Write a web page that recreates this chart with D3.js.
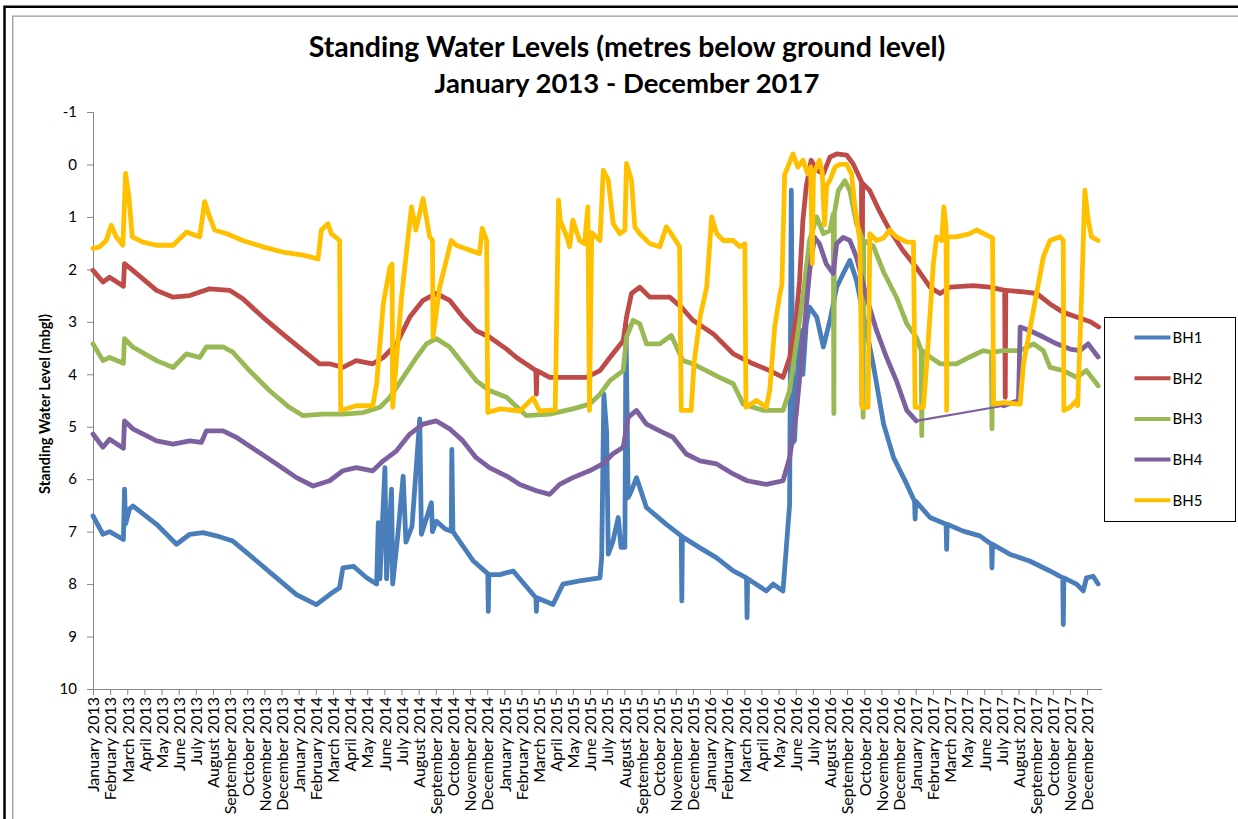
<!DOCTYPE html>
<html>
<head>
<meta charset="utf-8">
<script src="https://cdn.jsdelivr.net/npm/d3@7"></script>
<style>
  body { margin: 0; background: #fff; }
  svg text { font-family: Lato, "Open Sans", sans-serif; fill: #000; }
</style>
</head>
<body>
<svg id="chart" width="1238" height="819"></svg>
<script>
// ---- data (metres below ground level) ----
const seriesNames = ["BH1", "BH2", "BH3", "BH4", "BH5"];
const seriesColors = ["#4A7EBB", "#BE4B48", "#98B954", "#7D60A0", "#FFC000"];

const bh1 = [["2013-01-01",6.70],["2013-01-19",7.05],["2013-01-31",7.00],["2013-02-25",7.15],["2013-02-27",6.19],["2013-03-01",6.85],["2013-03-08",6.57],["2013-03-14",6.51],["2013-04-26",6.86],["2013-06-01",7.24],["2013-06-25",7.05],["2013-07-19",7.02],["2013-08-12",7.08],["2013-09-11",7.18],["2013-10-24",7.56],["2013-11-29",7.88],["2014-01-04",8.20],["2014-02-09",8.39],["2014-03-05",8.20],["2014-03-23",8.07],["2014-03-29",7.69],["2014-04-17",7.66],["2014-05-11",7.88],["2014-05-29",8.00],["2014-06-01",6.83],["2014-06-04",7.90],["2014-06-13",5.78],["2014-06-16",7.90],["2014-06-25",6.19],["2014-06-27",8.00],["2014-07-06",7.10],["2014-07-16",5.94],["2014-07-21",7.20],["2014-08-01",6.90],["2014-08-15",4.85],["2014-08-18",7.05],["2014-09-05",6.45],["2014-09-07",7.00],["2014-09-14",6.80],["2014-09-30",6.95],["2014-10-11",6.99],["2014-10-12",5.43],["2014-10-14",7.00],["2014-11-20",7.56],["2014-12-16",7.80],["2014-12-17",8.52],["2014-12-18",7.82],["2015-01-07",7.82],["2015-01-31",7.75],["2015-03-13",8.26],["2015-03-14",8.52],["2015-03-15",8.26],["2015-04-13",8.39],["2015-05-01",8.00],["2015-05-31",7.94],["2015-07-07",7.88],["2015-07-10",7.50],["2015-07-14",4.38],["2015-07-19",5.10],["2015-07-22",7.43],["2015-07-30",7.20],["2015-08-09",6.73],["2015-08-14",7.30],["2015-08-21",7.30],["2015-08-23",3.04],["2015-08-27",6.35],["2015-09-02",6.22],["2015-09-11",5.97],["2015-09-29",6.54],["2015-11-04",6.86],["2015-12-01",7.08],["2015-12-02",8.32],["2015-12-03",7.10],["2016-01-04",7.31],["2016-02-03",7.50],["2016-03-04",7.75],["2016-03-28",7.88],["2016-03-29",8.64],["2016-03-30",7.90],["2016-05-03",8.13],["2016-05-15",8.00],["2016-06-02",8.13],["2016-06-08",7.31],["2016-06-14",6.48],["2016-06-17",0.49],["2016-06-20",5.30],["2016-06-23",5.26],["2016-06-29",3.80],["2016-07-05",3.17],["2016-07-08",4.00],["2016-07-14",3.04],["2016-07-20",2.72],["2016-08-02",2.91],["2016-08-14",3.48],["2016-08-26",2.97],["2016-09-07",2.34],["2016-09-19",2.08],["2016-10-01",1.83],["2016-10-13",2.21],["2016-10-25",2.85],["2016-11-12",3.80],["2016-12-01",4.95],["2016-12-19",5.59],["2017-01-12",6.10],["2017-01-26",6.42],["2017-01-27",6.76],["2017-01-28",6.42],["2017-02-23",6.73],["2017-03-24",6.86],["2017-03-25",7.34],["2017-03-26",6.86],["2017-04-24",6.99],["2017-05-24",7.08],["2017-06-14",7.24],["2017-06-15",7.69],["2017-06-16",7.24],["2017-07-17",7.43],["2017-08-22",7.56],["2017-09-28",7.75],["2017-10-21",7.88],["2017-10-22",8.77],["2017-10-23",7.88],["2017-11-15",8.00],["2017-11-27",8.13],["2017-12-03",7.88],["2017-12-15",7.85],["2017-12-24",8.00]];

const bh2 = [["2013-01-01",2.02],["2013-01-19",2.24],["2013-01-31",2.15],["2013-02-25",2.32],["2013-02-27",1.89],["2013-03-14",2.02],["2013-04-26",2.40],["2013-05-26",2.53],["2013-06-25",2.50],["2013-07-31",2.37],["2013-09-05",2.40],["2013-09-29",2.56],["2013-11-04",2.91],["2013-12-10",3.23],["2014-01-16",3.55],["2014-02-15",3.80],["2014-03-05",3.80],["2014-03-29",3.87],["2014-04-22",3.74],["2014-05-22",3.80],["2014-06-10",3.68],["2014-07-04",3.42],["2014-07-28",2.91],["2014-08-21",2.59],["2014-09-14",2.46],["2014-10-08",2.59],["2014-11-01",2.91],["2014-11-25",3.17],["2014-12-19",3.29],["2015-01-19",3.52],["2015-02-06",3.68],["2015-03-13",3.93],["2015-03-14",4.38],["2015-03-15",3.93],["2015-04-07",4.06],["2015-05-07",4.06],["2015-06-12",4.06],["2015-07-07",3.93],["2015-07-25",3.68],["2015-08-18",3.36],["2015-08-24",2.91],["2015-09-02",2.46],["2015-09-17",2.34],["2015-10-05",2.53],["2015-11-10",2.53],["2015-12-01",2.72],["2015-12-22",2.97],["2016-01-28",3.23],["2016-03-04",3.61],["2016-04-09",3.80],["2016-05-09",3.93],["2016-06-02",4.06],["2016-06-14",3.68],["2016-06-26",2.91],["2016-07-02",2.21],["2016-07-08",1.07],["2016-07-14",0.43],["2016-07-23",-0.08],["2016-08-02",0.11],["2016-08-14",0.18],["2016-08-26",-0.14],["2016-09-07",-0.20],["2016-09-25",-0.18],["2016-10-07",-0.01],["2016-10-22",0.33],["2016-10-23",4.60],["2016-10-24",0.36],["2016-11-06",0.50],["2016-11-24",0.90],["2016-12-12",1.25],["2017-01-05",1.64],["2017-01-29",1.96],["2017-02-23",2.34],["2017-03-13",2.46],["2017-03-31",2.34],["2017-05-12",2.31],["2017-06-11",2.34],["2017-07-08",2.40],["2017-07-09",4.44],["2017-07-10",2.40],["2017-08-11",2.43],["2017-09-04",2.46],["2017-09-28",2.66],["2017-10-22",2.82],["2017-11-15",2.91],["2017-12-10",3.00],["2017-12-25",3.10]];

const bh3 = [["2013-01-01",3.42],["2013-01-19",3.74],["2013-01-31",3.68],["2013-02-25",3.79],["2013-02-27",3.32],["2013-03-14",3.48],["2013-04-26",3.74],["2013-05-26",3.87],["2013-06-19",3.61],["2013-07-13",3.68],["2013-07-25",3.48],["2013-08-24",3.48],["2013-09-11",3.58],["2013-10-11",3.93],["2013-11-16",4.31],["2013-12-22",4.63],["2014-01-16",4.79],["2014-02-21",4.76],["2014-03-29",4.76],["2014-05-05",4.73],["2014-06-04",4.63],["2014-06-22",4.44],["2014-07-16",4.06],["2014-08-09",3.68],["2014-08-27",3.42],["2014-09-14",3.32],["2014-10-08",3.48],["2014-11-01",3.80],["2014-11-25",4.12],["2014-12-19",4.31],["2015-01-19",4.44],["2015-02-24",4.79],["2015-04-07",4.76],["2015-05-19",4.66],["2015-06-18",4.57],["2015-07-07",4.38],["2015-07-25",4.12],["2015-08-18",3.93],["2015-08-24",3.29],["2015-09-05",2.97],["2015-09-17",3.04],["2015-09-29",3.42],["2015-10-23",3.42],["2015-11-13",3.26],["2015-12-04",3.74],["2015-12-22",3.80],["2016-01-15",3.93],["2016-02-08",4.06],["2016-03-04",4.18],["2016-03-22",4.57],["2016-04-28",4.69],["2016-06-02",4.69],["2016-06-14",4.31],["2016-06-26",3.42],["2016-07-08",2.53],["2016-07-20",1.45],["2016-08-02",1.00],["2016-08-14",1.32],["2016-08-26",1.26],["2016-09-01",0.94],["2016-09-02",4.75],["2016-09-03",0.94],["2016-09-10",0.50],["2016-09-22",0.31],["2016-10-01",0.50],["2016-10-13",1.13],["2016-10-24",1.42],["2016-10-25",4.82],["2016-10-26",1.45],["2016-11-12",1.55],["2016-12-01",2.05],["2016-12-25",2.55],["2017-01-12",3.04],["2017-01-29",3.29],["2017-02-07",3.55],["2017-02-08",5.17],["2017-02-09",3.55],["2017-02-23",3.67],["2017-03-13",3.80],["2017-04-12",3.80],["2017-05-06",3.67],["2017-05-30",3.55],["2017-06-14",3.58],["2017-06-15",5.04],["2017-06-16",3.58],["2017-07-06",3.55],["2017-08-05",3.55],["2017-08-29",3.42],["2017-09-16",3.55],["2017-09-28",3.87],["2017-10-22",3.93],["2017-11-15",4.06],["2017-12-03",3.93],["2017-12-24",4.22]];

const bh4 = [["2013-01-01",5.14],["2013-01-19",5.39],["2013-01-31",5.24],["2013-02-25",5.41],["2013-02-27",4.89],["2013-03-14",5.04],["2013-04-26",5.27],["2013-05-26",5.33],["2013-06-25",5.27],["2013-07-16",5.30],["2013-07-25",5.08],["2013-08-24",5.08],["2013-09-17",5.20],["2013-10-24",5.46],["2013-11-29",5.71],["2014-01-04",5.97],["2014-02-03",6.13],["2014-03-05",6.03],["2014-03-29",5.84],["2014-04-22",5.78],["2014-05-22",5.84],["2014-06-10",5.65],["2014-07-04",5.46],["2014-07-28",5.14],["2014-08-21",4.95],["2014-09-14",4.89],["2014-10-08",5.04],["2014-11-01",5.27],["2014-11-25",5.59],["2014-12-19",5.78],["2015-01-19",5.94],["2015-02-12",6.10],["2015-03-14",6.22],["2015-04-07",6.29],["2015-04-25",6.10],["2015-05-19",5.97],["2015-06-18",5.84],["2015-07-12",5.71],["2015-07-30",5.52],["2015-08-18",5.39],["2015-08-27",4.82],["2015-09-11",4.69],["2015-09-29",4.95],["2015-10-23",5.08],["2015-11-16",5.20],["2015-12-10",5.52],["2016-01-04",5.65],["2016-02-03",5.71],["2016-03-04",5.90],["2016-03-29",6.03],["2016-05-03",6.10],["2016-06-02",6.03],["2016-06-14",5.59],["2016-06-26",4.76],["2016-07-08",3.42],["2016-07-20",2.05],["2016-07-29",1.39],["2016-08-07",1.51],["2016-08-19",1.89],["2016-09-01",2.08],["2016-09-07",1.51],["2016-09-19",1.39],["2016-10-01",1.45],["2016-10-13",1.77],["2016-10-31",2.53],["2016-11-18",3.16],["2016-12-06",3.67],["2016-12-24",4.12],["2017-01-12",4.69],["2017-01-29",4.89],["2017-07-06",4.60],["2017-08-02",4.50],["2017-08-05",3.10],["2017-08-23",3.17],["2017-09-16",3.29],["2017-10-10",3.42],["2017-11-03",3.52],["2017-11-21",3.55],["2017-12-06",3.42],["2017-12-24",3.67]];

const bh5 = [["2013-01-01",1.60],["2013-01-13",1.57],["2013-01-25",1.45],["2013-02-03",1.16],["2013-02-12",1.38],["2013-02-24",1.54],["2013-03-01",0.17],["2013-03-07",0.62],["2013-03-13",1.38],["2013-04-01",1.48],["2013-04-26",1.54],["2013-05-26",1.54],["2013-06-19",1.29],["2013-07-13",1.38],["2013-07-22",0.71],["2013-07-31",1.00],["2013-08-09",1.25],["2013-08-31",1.32],["2013-09-29",1.45],["2013-11-04",1.57],["2013-12-10",1.67],["2014-01-16",1.73],["2014-02-12",1.80],["2014-02-18",1.25],["2014-03-02",1.13],["2014-03-08",1.32],["2014-03-23",1.45],["2014-03-25",4.69],["2014-04-22",4.60],["2014-05-22",4.60],["2014-05-29",4.18],["2014-06-10",2.66],["2014-06-22",1.96],["2014-06-26",1.90],["2014-06-27",4.63],["2014-07-13",2.53],["2014-07-31",0.81],["2014-08-08",1.25],["2014-08-21",0.65],["2014-09-02",1.38],["2014-09-07",1.45],["2014-09-08",3.29],["2014-09-20",2.34],["2014-10-11",1.45],["2014-10-20",1.54],["2014-12-01",1.70],["2014-12-06",1.22],["2014-12-14",1.45],["2014-12-16",4.73],["2015-01-07",4.66],["2015-02-12",4.70],["2015-03-08",4.45],["2015-03-20",4.70],["2015-04-17",4.68],["2015-04-23",0.68],["2015-04-26",1.06],["2015-05-08",1.38],["2015-05-13",1.57],["2015-05-19",1.06],["2015-05-31",1.45],["2015-06-09",1.51],["2015-06-15",0.81],["2015-06-18",4.69],["2015-06-22",1.30],["2015-07-07",1.45],["2015-07-13",0.11],["2015-07-22",0.30],["2015-07-31",1.13],["2015-08-12",1.32],["2015-08-21",1.25],["2015-08-24",-0.02],["2015-09-02",0.30],["2015-09-08",1.19],["2015-09-17",1.32],["2015-10-05",1.51],["2015-10-23",1.57],["2015-11-04",1.19],["2015-11-13",1.32],["2015-11-28",1.57],["2015-12-01",4.69],["2015-12-19",4.69],["2015-12-24",3.80],["2016-01-04",2.91],["2016-01-16",2.34],["2016-01-25",1.00],["2016-02-03",1.32],["2016-02-15",1.45],["2016-03-04",1.45],["2016-03-16",1.57],["2016-03-25",1.51],["2016-03-27",4.63],["2016-04-15",4.50],["2016-05-03",4.63],["2016-05-09",4.31],["2016-05-18",3.10],["2016-05-27",2.50],["2016-05-31",2.30],["2016-06-05",0.20],["2016-06-20",-0.20],["2016-06-29",0.05],["2016-07-08",-0.08],["2016-07-17",0.18],["2016-07-22",0.05],["2016-07-25",1.89],["2016-07-27",0.18],["2016-08-07",-0.08],["2016-08-12",0.15],["2016-08-16",1.15],["2016-08-20",0.40],["2016-08-26",0.30],["2016-09-04",0.05],["2016-09-13",0.00],["2016-09-25",0.00],["2016-10-04",0.18],["2016-10-10",0.81],["2016-10-19",1.45],["2016-10-23",4.63],["2016-11-03",4.63],["2016-11-06",1.32],["2016-11-18",1.45],["2016-12-01",1.40],["2016-12-12",1.25],["2016-12-24",1.38],["2017-01-12",1.48],["2017-01-24",1.48],["2017-01-27",4.63],["2017-02-11",4.63],["2017-02-17",3.80],["2017-03-01",1.89],["2017-03-07",1.38],["2017-03-16",1.45],["2017-03-20",0.81],["2017-03-24",1.20],["2017-03-25",4.69],["2017-03-26",1.38],["2017-04-12",1.38],["2017-05-06",1.32],["2017-05-18",1.25],["2017-06-12",1.38],["2017-06-16",1.40],["2017-06-18",4.57],["2017-07-06",4.54],["2017-08-05",4.57],["2017-08-11",3.80],["2017-08-29",2.78],["2017-09-16",1.76],["2017-09-28",1.45],["2017-10-16",1.38],["2017-10-22",1.45],["2017-10-23",4.69],["2017-11-03",4.63],["2017-11-15",4.50],["2017-11-17",4.60],["2017-11-24",2.53],["2017-11-30",0.49],["2017-12-06",1.06],["2017-12-12",1.38],["2017-12-24",1.45]];

// tick labels along the bottom (one every 31 days of data, so April 2017 drops out)
const monthLabels = ["January 2013","February 2013","March 2013","April 2013","May 2013","June 2013","July 2013","August 2013","September 2013","October 2013","November 2013","December 2013",
  "January 2014","February 2014","March 2014","April 2014","May 2014","June 2014","July 2014","August 2014","September 2014","October 2014","November 2014","December 2014",
  "January 2015","February 2015","March 2015","April 2015","May 2015","June 2015","July 2015","August 2015","September 2015","October 2015","November 2015","December 2015",
  "January 2016","February 2016","March 2016","April 2016","May 2016","June 2016","July 2016","August 2016","September 2016","October 2016","November 2016","December 2016",
  "January 2017","February 2017","March 2017","May 2017","June 2017","July 2017","August 2017","September 2017","October 2017","November 2017","December 2017"];
const labelStep = 31;
const yTicks = [-1, 0, 1, 2, 3, 4, 5, 6, 7, 8, 9, 10];

const titleLines = ["Standing Water Levels (metres below ground level)", "January 2013 - December 2017"];
const yTitle = "Standing Water Level (mbgl)";

// ---- layout ----
const W = 1238, H = 819;
const plotLeft = 93, plotRight = 1102, plotTop = 112, plotBottom = 689;

const parse = d3.timeParse("%Y-%m-%d");
const startDate = parse("2013-01-01");
const endDate = parse("2017-12-31");

const svg = d3.select("#chart");
svg.append("rect").attr("width", W).attr("height", H).attr("fill", "#fff");

// frame round the sheet
svg.append("path").attr("d", "M4.5,819V6.8H1238")
  .attr("fill", "none").attr("stroke", "#000").attr("stroke-width", 2.5);
svg.append("path").attr("d", "M12.7,819V16.2H1238")
  .attr("fill", "none").attr("stroke", "#9a9a9a").attr("stroke-width", 1.3);

const x = d3.scaleTime().domain([startDate, endDate]).range([plotLeft, plotRight]);
const y = d3.scaleLinear().domain([-1, 10]).range([plotTop, plotBottom]);

// fit a text element to a target width (no Calibri here)
function fitWidth(sel, target) {
  const len = sel.node().getComputedTextLength();
  const fs = parseFloat(sel.style("font-size"));
  sel.style("font-size", (fs * target / len) + "px");
}

// titles
const t1 = svg.append("text").attr("x", 627).attr("y", 57).attr("text-anchor", "middle")
  .style("font-weight", "bold").style("font-size", "24px").text(titleLines[0]);
fitWidth(t1, 637);
const t2 = svg.append("text").attr("x", 627).attr("y", 93).attr("text-anchor", "middle")
  .style("font-weight", "bold").style("font-size", "24px").text(titleLines[1]);
fitWidth(t2, 385);

// y axis (plain hyphen for -1, as in the original)
const yAxis = d3.axisLeft(y).tickValues(yTicks).tickSize(6).tickPadding(10).tickFormat(d => String(d));
const gy = svg.append("g").attr("transform", `translate(${plotLeft},0)`).call(yAxis);
gy.select(".domain").attr("stroke", "#868686");
gy.selectAll(".tick line").attr("stroke", "#868686");
gy.selectAll(".tick text").style("font-size", "15px").style("font-family", "Lato, sans-serif");

const yt = svg.append("text")
  .attr("transform", "translate(50,404) rotate(-90)")
  .attr("text-anchor", "middle")
  .style("font-weight", "bold").style("font-size", "12px").text(yTitle);
fitWidth(yt, 180);

// x axis: one label every 31 days
const labelDates = monthLabels.map((m, i) => d3.timeDay.offset(startDate, i * labelStep));
const xAxis = d3.axisBottom(x).tickValues(labelDates).tickSize(6)
  .tickFormat((d, i) => monthLabels[i]);
const gx = svg.append("g").attr("transform", `translate(0,${plotBottom})`).call(xAxis);
gx.select(".domain").attr("stroke", "#868686").attr("d", `M${plotLeft},0.5H${plotRight}`);
gx.selectAll(".tick line").attr("stroke", "#868686");
gx.selectAll(".tick text")
  .attr("transform", "rotate(-90)")
  .attr("x", -8).attr("y", 0).attr("dy", "0.36em")
  .style("text-anchor", "end")
  .style("font-size", "16px").style("font-family", "Lato, sans-serif");

// lines
const allSeries = [bh1, bh2, bh3, bh4, bh5];
const line = d3.line().x(d => x(parse(d[0]))).y(d => y(d[1]));
const plot = svg.append("g");

allSeries.forEach((data, k) => {
  // split where the logger has no readings for a long stretch; Excel joins those with a plain line
  const runs = [[data[0]]];
  const joins = [];
  for (let i = 1; i < data.length; i++) {
    const gap = (parse(data[i][0]) - parse(data[i - 1][0])) / 864e5;
    if (gap > 60) {
      joins.push([data[i - 1], data[i]]);
      runs.push([data[i]]);
    } else {
      runs[runs.length - 1].push(data[i]);
    }
  }
  joins.forEach(j => plot.append("path").attr("d", line(j))
    .attr("fill", "none").attr("stroke", seriesColors[k]).attr("stroke-width", 2.2));
  runs.forEach(r => plot.append("path").attr("d", line(r))
    .attr("fill", "none").attr("stroke", seriesColors[k]).attr("stroke-width", 4.8)
    .attr("stroke-linejoin", "round").attr("stroke-linecap", "round"));
});

// legend
const lg = svg.append("g").attr("transform", "translate(1104.5,317.5)");
lg.append("rect").attr("width", 131).attr("height", 204)
  .attr("fill", "#fff").attr("stroke", "#000").attr("stroke-width", 1);
seriesNames.forEach((name, i) => {
  const yy = 20 + i * 40.7;
  lg.append("line").attr("x1", 30).attr("x2", 66).attr("y1", yy).attr("y2", yy)
    .attr("stroke", seriesColors[i]).attr("stroke-width", 4);
  lg.append("text").attr("x", 68).attr("y", yy).attr("dy", "0.36em")
    .style("font-size", "15px").text(name);
});
</script>
</body>
</html>
